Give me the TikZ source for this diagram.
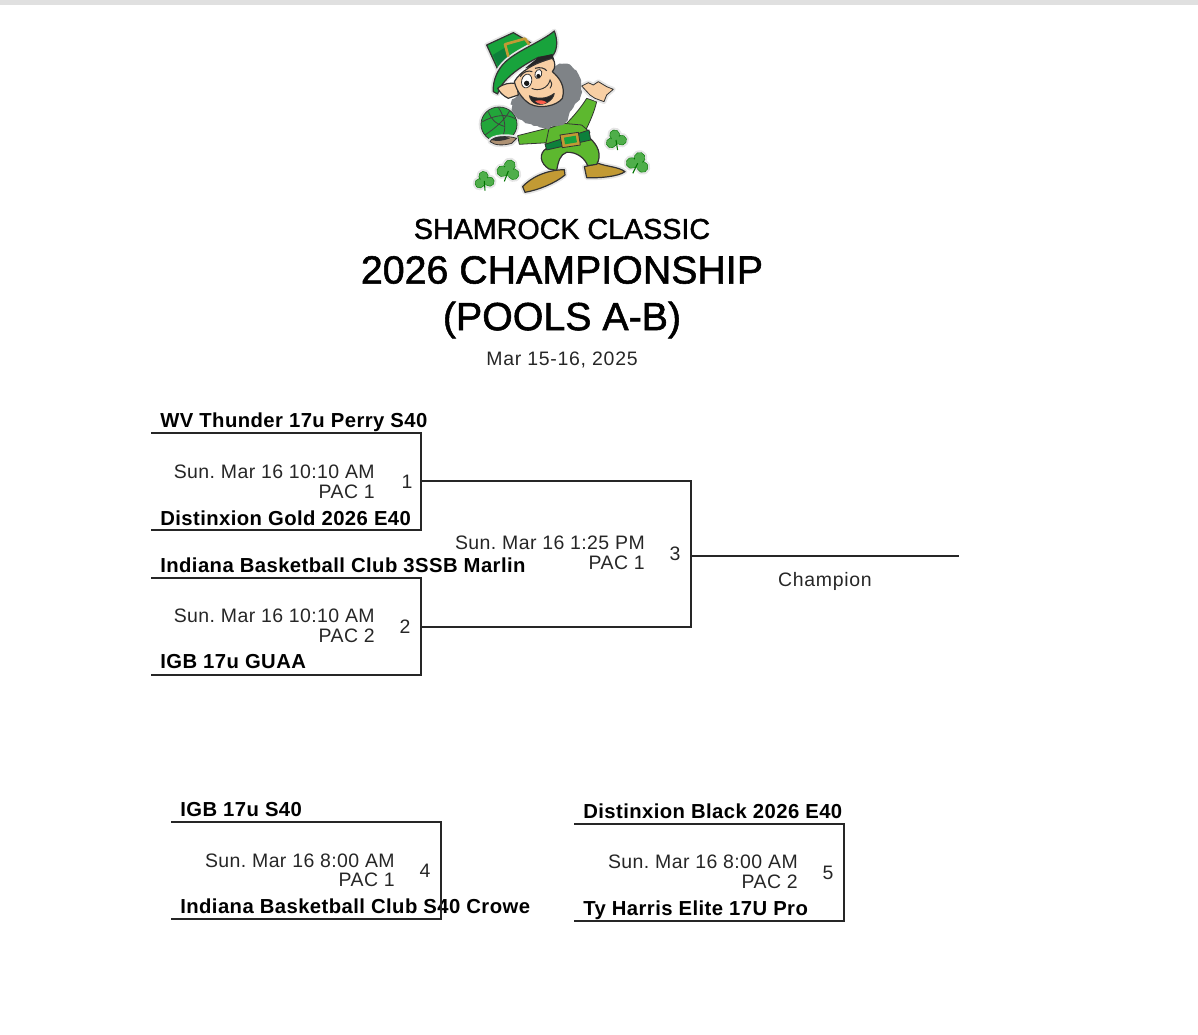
\documentclass[tikz,border=0pt]{standalone}
\usepackage{fontspec}
\setmainfont{Liberation Sans}[LetterSpace=2.1]
\newfontfamily\titlefont{Liberation Sans}[FakeBold=1.4]
\newfontfamily\datefont{Liberation Sans}[LetterSpace=3.6]
\usepackage{tikz}
\usetikzlibrary{positioning, calc, decorations.pathmorphing}
\definecolor{hatgreen}{HTML}{18A33C}
\definecolor{darkgreen}{HTML}{0B7A3B}
\definecolor{suitgreen}{HTML}{5DB82F}
\definecolor{cloverg}{HTML}{4FAE4A}
\definecolor{beard}{HTML}{7F8387}
\definecolor{skin}{HTML}{F8CFA4}
\definecolor{gold}{HTML}{C29A34}
\tikzset{
    teamname/.style={anchor=base west, inner sep=0pt, font=\fontsize{15.2}{18}\selectfont\bfseries},
    gametime/.style={anchor=base east, inner sep=0pt, font=\fontsize{14.6}{18}\selectfont, text=black!85},
    gamenum/.style={anchor=base, inner sep=0pt, font=\fontsize{14.6}{18}\selectfont, text=black!85},
    bracket/.style={line width=1.1pt, black!85},
    logoline/.style={draw=black!80, line width=0.6pt, line join=round},
    halo/.style={preaction={draw=black!10, line width=3.5pt, line join=round}},
}
\begin{document}
\frenchspacing
\begin{tikzpicture}[x=0.75pt, y=-0.75pt]
    \useasboundingbox (0,0) rectangle (1198,1034);
    \fill[black!12] (0,0) rectangle (1198,5);

    % logo, lower half
    \begin{scope}[shift={(475,95)}, x=0.25pt, y=-0.25pt]
        % clovers
        \foreach \cx/\cy/\cs/\rot in {28/258/30/10, 100/228/35/-15, 423/135/32/15, 488/205/35/-20} {
            \begin{scope}[shift={(\cx,\cy)}, rotate=\rot]
                \filldraw[cloverg, draw=green!45!black, line width=0.3pt, halo] (0,-0.5*\cs) circle (0.47*\cs) (-0.5*\cs,0.15*\cs) circle (0.47*\cs) (0.5*\cs,0.15*\cs) circle (0.47*\cs);
                \fill[cloverg] (0,0) circle (0.45*\cs);
                \draw[green!45!black, line width=0.8pt] (0,0) -- (-0.1*\cs,0.95*\cs);
            \end{scope}
        }
        % ball and hand
        \filldraw[logoline, fill=hatgreen!85!suitgreen, halo] (72,88) ellipse (54 and 52);
        \draw[black!75, line width=0.6pt] (22,80) .. controls (60,60) and (95,55) .. (122,72) (30,120) .. controls (60,100) and (90,75) .. (105,45) (70,37) .. controls (92,70) and (95,105) .. (80,130) (40,50) .. controls (50,75) and (60,85) .. (90,95);
        \filldraw[logoline, fill=skin!70!black, halo] (45,140) .. controls (50,125) and (95,120) .. (125,130) -- (110,145) .. controls (85,152) and (60,152) .. (45,140) -- cycle;
        \fill[black!80] (48,135) .. controls (60,122) and (90,122) .. (105,130) .. controls (85,138) and (65,140) .. (48,135) -- cycle;
        % arms
        \filldraw[logoline, fill=suitgreen] (128,122) -- (255,90) -- (272,140) -- (133,148) -- cycle;
        \filldraw[logoline, fill=suitgreen] (270,90) .. controls (295,65) and (320,35) .. (335,10) -- (365,20) .. controls (358,50) and (345,80) .. (330,110) -- cycle;
        % shoes
        \filldraw[logoline, line width=0.9pt, fill=gold, halo] (143,275) .. controls (165,250) and (210,225) .. (268,224) -- (270,240) .. controls (240,265) and (190,285) .. (150,292) -- cycle;
        \filldraw[logoline, line width=0.9pt, fill=gold, halo] (328,215) -- (370,205) .. controls (395,215) and (430,215) .. (450,230) .. controls (430,245) and (370,250) .. (335,248) -- cycle;
        % legs
        \filldraw[logoline, line width=0.9pt, fill=suitgreen] (215,160) -- (345,130) .. controls (368,150) and (382,180) .. (365,208) -- (338,212) .. controls (330,190) and (305,170) .. (275,172) .. controls (255,178) and (250,200) .. (245,226) -- (222,222) .. controls (195,205) and (190,175) .. (215,160) -- cycle;
        % body and belt
        \filldraw[logoline, fill=suitgreen] (222,100) -- (265,85) -- (320,90) -- (345,112) -- (212,148) -- cycle;
        \filldraw[logoline, fill=darkgreen!85!hatgreen] (210,148) -- (342,105) -- (347,135) -- (215,165) -- cycle;
        \filldraw[logoline, fill=gold] (255,120) -- (310,112) -- (316,150) -- (262,158) -- cycle;
        \fill[hatgreen] (267,128) -- (302,122) -- (306,142) -- (270,148) -- cycle;
    \end{scope}

    % logo, head and hat
    \begin{scope}[shift={(475,20)}, x=0.25pt, y=-0.25pt]
        % hand
        \filldraw[logoline, fill=skin, halo] (320,198) -- (340,188) -- (355,195) -- (370,185) -- (395,200) -- (415,208) -- (395,225) -- (387,245) -- (360,235) -- (345,225) -- cycle;
        % hat
        \filldraw[logoline, line width=0.9pt, fill=hatgreen, halo] (35,75) -- (115,38) -- (170,70) -- (100,130) -- (70,152) -- cycle;
        \fill[darkgreen!85!hatgreen] (53,105) -- (92,82) -- (104,112) -- (70,140) -- cycle;
        \filldraw[logoline, line width=0.9pt, fill=hatgreen, halo] (238,33) .. controls (200,65) and (130,90) .. (92,125) .. controls (70,145) and (52,180) .. (55,215) -- (68,222) .. controls (75,190) and (115,150) .. (190,112) -- (235,105) .. controls (248,85) and (248,60) .. (238,33) -- cycle;
        \draw[gold, line width=2pt, line join=round] (100,110) -- (90,73) -- (150,56) -- (163,74);
        % beard
        \fill[beard, decorate, decoration={random steps, segment length=3pt, amplitude=1.2pt}] plot[smooth cycle, tension=0.7] coordinates {(130,225) (112,255) (120,285) (155,310) (195,322) (255,315) (290,270) (320,215) (310,165) (275,132) (240,140)};
        % ear and face
        \fill[black!85] (150,145) -- (190,112) -- (232,102) -- (238,120) -- (190,135) -- cycle;
        \filldraw[logoline, line width=0.9pt, fill=skin] (68,205) .. controls (85,190) and (105,188) .. (125,190) -- (130,225) -- (100,235) .. controls (85,228) and (75,218) .. (68,205) -- cycle;
        \filldraw[logoline, line width=0.9pt, fill=skin] (118,185) .. controls (135,155) and (175,130) .. (232,115) .. controls (242,125) and (242,145) .. (232,155) .. controls (255,175) and (272,200) .. (262,235) .. controls (245,258) and (195,268) .. (165,252) .. controls (145,240) and (125,215) .. (118,185) -- cycle;
        \filldraw[logoline, fill=white, rotate around={-15:(155,183)}] (155,183) ellipse (15 and 21);
        \filldraw[logoline, fill=white, rotate around={-20:(190,162)}] (190,162) ellipse (10 and 14);
        \fill[black!90] (155,190) circle (8) (190,168) circle (6);
        \draw[black!80, line width=0.8pt] (135,170) .. controls (145,155) and (160,150) .. (172,155) (180,145) .. controls (195,140) and (210,145) .. (215,152);
        \draw[black!80, line width=0.7pt] (170,205) .. controls (190,215) and (220,205) .. (225,180) .. controls (232,185) and (232,195) .. (225,205);
        \filldraw[logoline, fill=black!85] (163,227) .. controls (185,238) and (215,238) .. (238,220) .. controls (235,240) and (210,258) .. (185,252) .. controls (172,248) and (165,238) .. (163,227) -- cycle;
        \fill[red!55!skin] (180,243) .. controls (195,238) and (210,242) .. (215,248) .. controls (205,254) and (190,254) .. (180,243) -- cycle;
    \end{scope}

    % title
    \node[inner sep=0pt, font=\fontsize{21.5}{24}\titlefont] (subtitle) at (562,229) {SHAMROCK CLASSIC};
    \node[inner sep=0pt, font=\fontsize{29.5}{32}\titlefont] (title) at (562,270) {2026 CHAMPIONSHIP};
    \node[inner sep=0pt, font=\fontsize{29.5}{32}\titlefont] (pools) at (562,320) {(POOLS A-B)};
    \node[inner sep=0pt, font=\fontsize{14.6}{18}\datefont, text=black!85] (dates) at (562,360) {Mar 15-16, 2025};

    % first game
    \node[teamname] (teama) at (160,427) {WV Thunder 17u Perry S40};
    \node[teamname] (teamb) at (160,525) {Distinxion Gold 2026 E40};
    \node[gametime] (timea) at (375,478) {Sun. Mar 16 10:10 AM};
    \node[gametime] (courta) at (375,498) {PAC 1};
    \node[gamenum] (numa) at (407,488) {1};
    \coordinate (g1top) at (151,433);
    \coordinate (g1corner) at (421,433);
    \coordinate (g1low) at (421,530);
    \coordinate (g1bot) at (151,530);
    \coordinate (g1out) at (421,481);
    \draw[bracket] (g1top) -- (g1corner) -- (g1low) -- (g1bot);

    % second game
    \node[teamname] (teamc) at (160,572) {Indiana Basketball Club 3SSB Marlin};
    \node[teamname] (teamd) at (160,668) {IGB 17u GUAA};
    \node[gametime] (timeb) at (375,622) {Sun. Mar 16 10:10 AM};
    \node[gametime] (courtb) at (375,642) {PAC 2};
    \node[gamenum] (numb) at (405,633) {2};
    \coordinate (g2top) at (151,578);
    \coordinate (g2corner) at (421,578);
    \coordinate (g2low) at (421,675);
    \coordinate (g2bot) at (151,675);
    \coordinate (g2out) at (421,627);
    \draw[bracket] (g2top) -- (g2corner) -- (g2low) -- (g2bot);

    % final
    \node[gametime] (timec) at (645,549) {Sun. Mar 16 1:25 PM};
    \node[gametime] (courtc) at (645,569) {PAC 1};
    \node[gamenum] (numc) at (675,560) {3};
    \coordinate (g3top) at (691,481);
    \coordinate (g3bot) at (691,627);
    \coordinate (g3out) at (691,556);
    \coordinate (champ) at (959,556);
    \draw[bracket] (g1out) -- (g3top) -- (g3bot) -- (g2out);
    \draw[bracket] (g3out) -- (champ);
    \node[inner sep=0pt, font=\fontsize{14.6}{18}\datefont, text=black!85] (champion) at (825,581) {Champion};

    % fourth game
    \node[teamname] (teame) at (180,816) {IGB 17u S40};
    \node[teamname] (teamf) at (180,913) {Indiana Basketball Club S40 Crowe};
    \node[gametime] (timed) at (395,867) {Sun. Mar 16 8:00 AM};
    \node[gametime] (courtd) at (395,886) {PAC 1};
    \node[gamenum] (numd) at (425,877) {4};
    \coordinate (g4top) at (171,822);
    \coordinate (g4corner) at (441,822);
    \coordinate (g4low) at (441,919);
    \coordinate (g4bot) at (171,919);
    \draw[bracket] (g4top) -- (g4corner) -- (g4low) -- (g4bot);

    % fifth game
    \node[teamname] (teamg) at (583,818) {Distinxion Black 2026 E40};
    \node[teamname] (teamh) at (583,915) {Ty Harris Elite 17U Pro};
    \node[gametime] (timee) at (798,868) {Sun. Mar 16 8:00 AM};
    \node[gametime] (courte) at (798,888) {PAC 2};
    \node[gamenum] (nume) at (828,879) {5};
    \coordinate (g5top) at (574,824);
    \coordinate (g5corner) at (844,824);
    \coordinate (g5low) at (844,921);
    \coordinate (g5bot) at (574,921);
    \draw[bracket] (g5top) -- (g5corner) -- (g5low) -- (g5bot);
\end{tikzpicture}
\end{document}
